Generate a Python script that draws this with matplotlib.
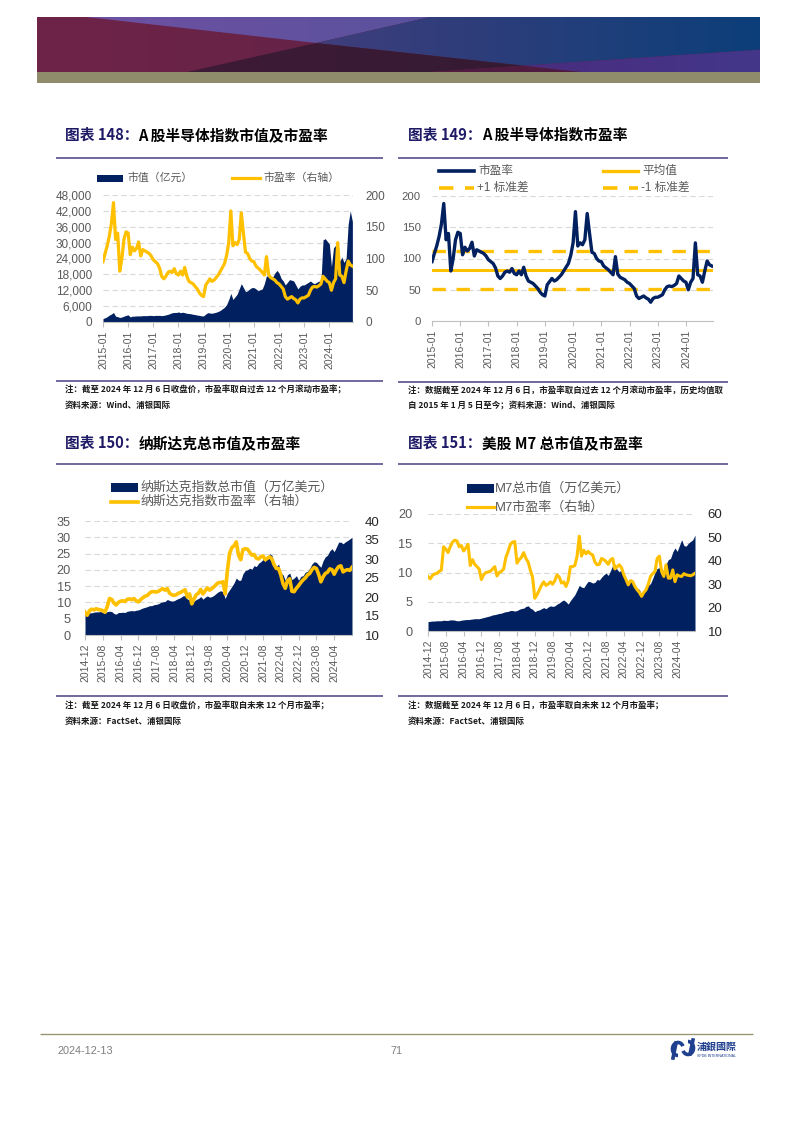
import numpy as np
import matplotlib
matplotlib.use('Agg')
import matplotlib.pyplot as plt
from matplotlib.patches import Polygon, Rectangle, Arc
from matplotlib.lines import Line2D

plt.rcParams['font.family'] = ['Liberation Sans', 'Noto Sans CJK SC', 'DejaVu Sans']

# ---------------- DATA ----------------
# Chart 148/149: A-share semiconductor index, monthly 2015-01 .. 2024-12
a_cap = [1300, 1600, 2000, 2600, 3000, 3600, 2200, 2000, 1700, 1900, 2200, 2500,
         2700, 1900, 2200, 2200, 2300, 2300, 2300, 2400, 2400, 2400, 2500, 2500,
         2400, 2500, 2500, 2500, 2400, 2500, 2700, 2900, 3200, 3500, 3600, 3600,
         3800, 3500, 3700, 3500, 3300, 3200, 3100, 2900, 2800, 2600, 2500, 2300,
         2300, 3000, 3500, 3400, 3300, 3500, 3700, 4000, 4400, 5000, 5600, 6600,
         8500, 10800, 8500, 9500, 10500, 12500, 14500, 13000, 11500, 11800, 12500, 13000,
         13000, 12500, 11800, 12200, 12500, 14500, 17500, 17000, 16500, 17000, 18500, 19500,
         18500, 16500, 15500, 14000, 15000, 16000, 15800, 15500, 14000, 12500, 13500, 14000,
         14000, 14500, 15000, 15500, 14800, 14500, 15000, 15500, 15000, 31000, 31500, 30500,
         29500, 21000, 28000, 29000, 27000, 23000, 24500, 22500, 24000, 37000, 42000, 38000]
a_pe = [95, 108, 120, 135, 155, 188, 130, 140, 80, 100, 130, 142,
        140, 106, 118, 112, 116, 126, 104, 114, 112, 110, 108, 104,
        98, 95, 92, 85, 72, 68, 72, 78, 80, 78, 84, 76,
        74, 80, 74, 86, 72, 64, 62, 60, 56, 52, 46, 42,
        40, 58, 63, 68, 64, 66, 70, 74, 80, 86, 92, 105,
        125, 175, 120, 125, 122, 130, 172, 140, 110, 108, 100, 96,
        95, 88, 85, 82, 78, 74, 103, 75, 70, 68, 66, 62,
        60, 56, 52, 40, 36, 38, 40, 37, 35, 30, 36, 38,
        38, 40, 42, 50, 55, 56, 55, 57, 60, 72, 68, 64,
        62, 50, 62, 68, 125, 74, 72, 62, 80, 96, 90, 88]
pe_mean = 81.5
pe_std = 30.5
a_xlabels = ['2015-01', '2016-01', '2017-01', '2018-01', '2019-01',
             '2020-01', '2021-01', '2022-01', '2023-01', '2024-01']

# Chart 150: Nasdaq, monthly 2014-12 .. 2024-12
nq_cap = [6.5,
          6.2, 6.8, 6.8, 7.0, 7.1, 7.1, 7.2, 6.9, 6.7, 7.2, 7.3, 7.2,
          6.6, 6.4, 6.9, 6.9, 7.0, 6.9, 7.3, 7.4, 7.5, 7.4, 7.6, 7.7,
          8.0, 8.3, 8.5, 8.7, 9.0, 9.0, 9.3, 9.4, 9.6, 10.0, 10.2, 10.3,
          10.9, 10.6, 10.4, 10.5, 10.9, 11.2, 11.5, 12.0, 12.1, 11.0, 10.9, 9.6,
          10.4, 10.9, 11.2, 11.8, 11.0, 11.6, 12.0, 11.6, 11.8, 12.2, 12.8, 13.3,
          13.6, 13.2, 11.2, 12.9, 13.9, 14.9, 16.0, 17.5, 16.8, 16.8, 18.8, 19.8,
          20.0, 20.5, 20.2, 21.3, 21.0, 22.0, 22.5, 23.2, 22.6, 24.0, 25.0, 24.5,
          22.0, 21.0, 21.8, 19.0, 18.5, 16.8, 18.5, 19.0, 17.0, 17.5, 18.2, 16.8,
          18.0, 18.2, 19.3, 19.5, 20.5, 21.8, 22.5, 22.3, 21.5, 20.8, 22.8, 24.0,
          24.5, 25.8, 26.5, 25.6, 27.0, 28.5, 28.5, 28.0, 28.6, 29.0, 29.5, 30.0]
nq_pe = [16.0,
         15.2, 16.4, 16.8, 16.6, 16.9, 16.7, 16.6, 16.4, 16.0, 17.5, 19.6, 19.4,
         18.4, 17.9, 18.6, 18.9, 19.0, 18.8, 19.4, 19.5, 19.3, 19.6, 19.0, 18.7,
         19.3, 19.8, 20.2, 20.4, 21.0, 21.4, 21.4, 21.3, 21.5, 21.9, 22.2, 21.8,
         22.2, 21.0, 20.6, 20.4, 20.6, 21.0, 21.2, 21.6, 21.9, 20.0, 20.8, 18.2,
         19.5, 20.6, 21.0, 22.0, 20.8, 21.6, 22.4, 21.8, 22.2, 22.7, 23.3, 23.8,
         23.8, 24.0, 20.8, 27.0, 31.5, 33.0, 33.5, 34.5, 31.0, 29.8, 32.5, 32.7,
         32.6, 31.8, 31.0, 31.2, 30.2, 30.0, 30.6, 30.8, 29.8, 30.2, 30.6, 30.0,
         28.5, 27.5, 27.5, 25.8, 23.5, 22.3, 24.3, 24.8, 21.5, 21.4, 22.3, 23.0,
         23.8, 24.5, 25.0, 25.8, 26.2, 27.2, 27.8, 27.5, 26.0, 24.0, 25.3, 26.2,
         26.5, 27.4, 27.2, 26.0, 27.2, 28.0, 28.2, 26.6, 27.0, 27.2, 27.0, 27.8]

# Chart 151: US Magnificent 7, monthly 2014-12 .. 2024-12
m7_cap = [1.6,
          1.65, 1.7, 1.7, 1.75, 1.75, 1.75, 1.85, 1.8, 1.8, 1.9, 1.9, 1.85,
          1.75, 1.75, 1.85, 1.9, 1.95, 1.95, 2.0, 2.05, 2.1, 2.1, 2.1, 2.2,
          2.3, 2.4, 2.5, 2.6, 2.75, 2.8, 2.9, 3.0, 3.05, 3.2, 3.3, 3.35,
          3.5, 3.5, 3.4, 3.5, 3.7, 3.85, 3.9, 4.2, 4.3, 3.9, 3.7, 3.3,
          3.5, 3.6, 3.8, 4.0, 3.8, 4.1, 4.3, 4.2, 4.3, 4.6, 4.8, 5.1,
          5.3, 5.0, 4.6, 5.2, 5.7, 6.2, 7.0, 7.8, 7.5, 7.4, 8.0, 8.5,
          8.4, 8.2, 8.3, 8.8, 8.7, 9.2, 9.6, 9.9, 9.5, 10.3, 11.2, 11.4,
          10.5, 10.1, 10.6, 9.2, 8.6, 8.0, 8.9, 8.6, 7.6, 7.3, 7.1, 6.2,
          6.9, 7.2, 7.8, 8.1, 9.0, 10.0, 10.7, 10.8, 10.3, 10.4, 11.4, 12.2,
          12.4, 13.5, 14.2, 13.6, 14.6, 15.6, 14.6, 14.5, 15.0, 15.3, 15.6, 16.4]
m7_pe = [33.3,
         32.3, 33.8, 34.4, 34.6, 35.5, 36.0, 46.0, 45.0, 43.5, 46.0, 48.0, 48.8,
         48.5, 46.0, 46.5, 44.2, 45.5, 47.0, 38.0, 40.5, 38.5, 37.5, 36.5, 32.0,
         34.0, 35.0, 35.2, 35.5, 36.5, 37.5, 33.5, 35.0, 35.5, 36.5, 41.5, 44.0,
         47.0, 48.0, 48.2, 39.0, 40.5, 41.5, 43.5, 41.0, 39.5, 36.0, 33.0, 24.0,
         25.5, 27.5, 29.5, 31.0, 29.5, 30.0, 31.0, 30.0, 31.5, 34.0, 33.0, 30.5,
         31.0, 29.0, 31.5, 37.5, 37.5, 38.0, 42.0, 50.5, 42.0, 44.5, 43.0, 44.0,
         43.0, 42.5, 39.5, 38.3, 38.5, 41.0, 40.5, 39.7, 38.5, 40.4, 41.0, 36.5,
         37.5, 38.3, 37.0, 34.0, 32.0, 29.7, 31.5, 31.1, 29.0, 27.6, 26.5, 24.8,
         26.5, 27.6, 30.0, 33.3, 34.5, 35.4, 41.0, 42.0, 35.4, 33.3, 38.3, 32.6,
         32.6, 36.1, 31.1, 34.0, 33.5, 33.3, 34.5, 34.0, 33.8, 33.6, 34.0, 34.7]
us_xlabels = ['2014-12', '2015-08', '2016-04', '2016-12', '2017-08', '2018-04',
              '2018-12', '2019-08', '2020-04', '2020-12', '2021-08', '2022-04',
              '2022-12', '2023-08', '2024-04']

# ---------------- STYLE ----------------
W, H = 793, 1122
NAVY = '#002060'
GOLD = '#FFC000'
GRAY = '#595959'
GRID = '#D9D9D9'
RULE = '#4A3F85'
TITLE_BLUE = '#1F1A66'
CJK = ['Noto Sans CJK SC', 'DejaVu Sans']

fig = plt.figure(figsize=(W / 100, H / 100), dpi=100)
bg = fig.add_axes([0, 0, 1, 1])
bg.set_xlim(0, W)
bg.set_ylim(H, 0)
bg.axis('off')


def axes_px(x0, y0, x1, y1):
    return fig.add_axes([x0 / W, 1 - y1 / H, (x1 - x0) / W, (y1 - y0) / H])


# ---------------- BANNER ----------------
def bx(z):
    return 37 + (z - 73) / 1430 * 723


def by(z):
    return 17 + (z - 50) / 165 * 55


def grad_poly(zpts, c0, c1):
    pts = [(bx(a), by(b)) for a, b in zpts]
    xs = [p[0] for p in pts]
    ys = [p[1] for p in pts]
    poly = Polygon(pts, closed=True, facecolor='none', edgecolor='none')
    bg.add_patch(poly)
    c0 = np.array(matplotlib.colors.to_rgb(c0))
    c1 = np.array(matplotlib.colors.to_rgb(c1))
    t = np.linspace(0, 1, 256)[None, :, None]
    img = c0 + (c1 - c0) * t
    im = bg.imshow(img, extent=(min(xs), max(xs), max(ys), min(ys)),
                   aspect='auto', interpolation='bilinear', zorder=1)
    im.set_clip_path(poly)


grad_poly([(73, 50), (1503, 50), (1503, 215), (73, 215)], '#6E2448', '#5A2246')
grad_poly([(170, 50), (850, 50), (625, 128)], '#6E50A2', '#5A529D')
grad_poly([(850, 50), (1503, 50), (1503, 148), (1035, 196), (625, 128)], '#403D7C', '#0C3F79')
grad_poly([(370, 215), (625, 128), (1035, 196), (850, 215)], '#3E1B37', '#351A33')
grad_poly([(850, 215), (1035, 196), (1150, 215)], '#521B40', '#4E1B40')
grad_poly([(1035, 196), (1503, 148), (1503, 215), (1150, 215)], '#4A2C7E', '#43378A')
bg.add_patch(Rectangle((37, 72), 723, 11, facecolor='#8F8C6B', edgecolor='none', zorder=2))
bg.set_xlim(0, W)
bg.set_ylim(H, 0)

# ---------------- TEXT HELPERS ----------------
renderer = fig.canvas.get_renderer()


def title(x, y, head, rest):
    t1 = bg.text(x, y, head, fontsize=10.6, fontweight='bold', color=TITLE_BLUE,
                 family=CJK, va='center', ha='left')
    bb = t1.get_window_extent(renderer=renderer)
    bg.text(bb.x1, y, rest, fontsize=10.6, fontweight='bold', color='black',
            family=CJK, va='center', ha='left')


def rule(x0, x1, y, color=RULE, lw=1.1):
    bg.plot([x0, x1], [y, y], color=color, lw=lw, solid_capstyle='butt')


def note(x, y, s):
    bg.text(x, y, s, fontsize=6.1, fontweight='bold', color='#1A1A1A',
            family=CJK, va='center', ha='left')


def leg_text(x, y, s, size):
    bg.text(x, y, s, fontsize=size, color=GRAY, family=['Liberation Sans', 'Noto Sans CJK SC'],
            va='center', ha='left')


def style(ax, ax2, xt, xl, lsize, rsize, rcolor, lpad, rpad):
    for s in ['top', 'left', 'right']:
        ax.spines[s].set_visible(False)
    ax.spines['bottom'].set_color('#BFBFBF')
    ax.spines['bottom'].set_linewidth(0.8)
    ax.set_xticks(xt)
    ax.set_xticklabels(xl, rotation=90, fontsize=7.5, color=GRAY)
    ax.tick_params(axis='x', length=3.5, width=0.8, color='#BFBFBF', pad=2.5)
    ax.tick_params(axis='y', length=0, labelsize=lsize, labelcolor=GRAY, pad=lpad)
    ax.yaxis.grid(True, linestyle=(0, (5, 3)), color=GRID, lw=0.8)
    ax.set_axisbelow(True)
    ax.patch.set_alpha(0)
    if ax2 is not None:
        for s in ax2.spines.values():
            s.set_visible(False)
        ax2.tick_params(axis='y', length=0, labelsize=rsize, labelcolor=rcolor, pad=rpad)


# ---------------- CHART 148 ----------------
title(65, 135, '图表 148：', 'A 股半导体指数市值及市盈率')
rule(56, 383, 158)
ma = np.arange(len(a_cap))
ax = axes_px(103, 195, 353, 322)
ax.fill_between(ma, a_cap, color=NAVY, lw=0)
ax.set_xlim(0, 119.3)
ax.set_ylim(0, 48000)
ax.set_yticks(range(0, 48001, 6000))
ax.set_yticklabels([f'{v:,}' for v in range(0, 48001, 6000)])
ax2 = ax.twinx()
ax2.plot(ma, a_pe, color=GOLD, lw=2.3, solid_joinstyle='round')
ax2.set_ylim(0, 200)
ax2.set_yticks(range(0, 201, 50))
style(ax, ax2, list(range(0, 109, 12)), a_xlabels, 8.5, 8.5, GRAY, 8, 9)
bg.add_patch(Rectangle((97, 175), 26, 6.5, facecolor=NAVY, edgecolor='none'))
leg_text(127, 178, '市值（亿元）', 7.8)
bg.plot([232, 260], [178, 178], color=GOLD, lw=2.3)
leg_text(263, 178, '市盈率（右轴）', 7.8)
rule(56, 383, 381)
note(65, 390, '注：截至 2024 年 12 月 6 日收盘价，市盈率取自过去 12 个月滚动市盈率；')
note(65, 405, '资料来源：Wind、浦银国际')

# ---------------- CHART 149 ----------------
title(408, 135, '图表 149：', 'A 股半导体指数市盈率')
rule(398, 728, 158)
ax = axes_px(432, 196, 713, 321)
ax.axhline(pe_mean, color=GOLD, lw=2.2, zorder=2)
ax.axhline(pe_mean + pe_std, color=GOLD, lw=2.4, ls=(0, (4, 3.2)), zorder=2)
ax.axhline(pe_mean - pe_std, color=GOLD, lw=2.4, ls=(0, (4, 3.2)), zorder=2)
ax.plot(ma, a_pe, color=NAVY, lw=2.4, zorder=3, solid_joinstyle='round')
ax.set_xlim(0, 119.5)
ax.set_ylim(0, 200)
ax.set_yticks(range(0, 201, 50))
style(ax, None, list(range(0, 109, 12)), a_xlabels, 8.2, 8, GRAY, 8, 8)
bg.plot([439, 474], [171, 171], color=NAVY, lw=2.6)
leg_text(478, 171, '市盈率', 8.4)
bg.plot([603, 638], [171, 171], color=GOLD, lw=2.4)
leg_text(642, 171, '平均值', 8.4)
bg.plot([439, 474], [188, 188], color=GOLD, lw=2.6, ls=(0, (4, 3.2)))
leg_text(477, 188, '+1 标准差', 8.4)
bg.plot([603, 638], [188, 188], color=GOLD, lw=2.6, ls=(0, (4, 3.2)))
leg_text(641, 188, '-1 标准差', 8.4)
rule(398, 728, 382)
note(408, 390, '注：数据截至 2024 年 12 月 6 日，市盈率取自过去 12 个月滚动市盈率，历史均值取')
note(408, 405, '自 2015 年 1 月 5 日至今；资料来源：Wind、浦银国际')

# ---------------- CHART 150 ----------------
title(65, 443, '图表 150：', '纳斯达克总市值及市盈率')
rule(56, 383, 464)
mu = np.arange(len(nq_cap))
ax = axes_px(85, 521, 352, 635)
ax.fill_between(mu, nq_cap, color=NAVY, lw=0)
ax.set_xlim(0, 120)
ax.set_ylim(0, 35)
ax.set_yticks(range(0, 36, 5))
ax2 = ax.twinx()
ax2.plot(mu, nq_pe, color=GOLD, lw=2.6, solid_joinstyle='round')
ax2.set_ylim(10, 40)
ax2.set_yticks(range(10, 41, 5))
style(ax, ax2, list(range(0, 113, 8)), us_xlabels, 9.2, 9.5, '#262626', 10, 9)
bg.add_patch(Rectangle((111, 483), 27, 9, facecolor=NAVY, edgecolor='none'))
leg_text(140, 487, '纳斯达克指数总市值（万亿美元）', 9.3)
bg.plot([111, 138], [502, 502], color=GOLD, lw=2.6)
leg_text(140, 502, '纳斯达克指数市盈率（右轴）', 9.3)
rule(56, 383, 696)
note(65, 706, '注：截至 2024 年 12 月 6 日收盘价，市盈率取自未来 12 个月市盈率；')
note(65, 721, '资料来源：FactSet、浦银国际')

# ---------------- CHART 151 ----------------
title(408, 443, '图表 151：', '美股 M7 总市值及市盈率')
rule(398, 728, 464)
ax = axes_px(428, 514, 695, 631)
ax.fill_between(mu, m7_cap, color=NAVY, lw=0)
ax.set_xlim(0, 120)
ax.set_ylim(0, 20)
ax.set_yticks(range(0, 21, 5))
ax2 = ax.twinx()
ax2.plot(mu, m7_pe, color=GOLD, lw=2.2, solid_joinstyle='round')
ax2.set_ylim(10, 60)
ax2.set_yticks(range(10, 61, 10))
style(ax, ax2, list(range(0, 113, 8)), us_xlabels, 9.2, 9.5, '#262626', 11, 9)
bg.add_patch(Rectangle((467, 484), 27, 9, facecolor=NAVY, edgecolor='none'))
leg_text(495, 488, 'M7总市值（万亿美元）', 9.4)
bg.plot([467, 494], [507, 507], color=GOLD, lw=2.3)
leg_text(495, 507, 'M7市盈率（右轴）', 9.4)
rule(398, 728, 696)
note(408, 706, '注：数据截至 2024 年 12 月 6 日，市盈率取自未来 12 个月市盈率；')
note(408, 721, '资料来源：FactSet、浦银国际')

# ---------------- FOOTER ----------------
rule(40, 753, 1034, color='#9A9672', lw=1.0)
bg.text(57, 1051, '2024-12-13', fontsize=7.8, color='#7F7F7F', va='center', ha='left')
bg.text(397, 1051, '71', fontsize=7.8, color='#7F7F7F', va='center', ha='center')
bg.add_patch(Arc((678, 1049), 11, 13, theta1=90, theta2=330, lw=2.6, color='#1F3F8F'))
bg.plot([676, 673], [1043, 1058], color='#1F3F8F', lw=2.6)
bg.add_patch(Arc((688, 1048), 11, 13, theta1=270, theta2=150, lw=2.6, color='#1F3F8F'))
bg.plot([690, 693], [1054, 1040], color='#1F3F8F', lw=2.6)
bg.text(697, 1047, '浦銀國際', fontsize=7.2, fontweight='bold', color='#1F3F8F',
        family=['Noto Sans CJK TC', 'Noto Sans CJK SC'], va='center', ha='left')
bg.text(697, 1056, 'SPDB INTERNATIONAL', fontsize=2.6, color='#1F3F8F', va='center', ha='left')

bg.set_xlim(0, W)
bg.set_ylim(H, 0)
fig.savefig('out.png', dpi=100)
